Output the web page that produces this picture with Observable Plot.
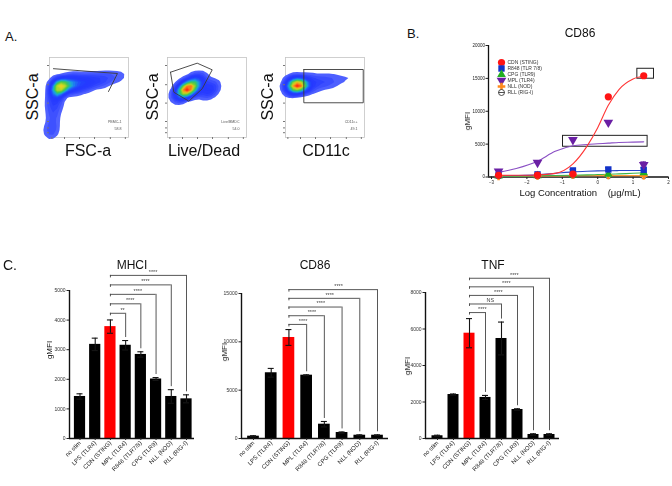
<!DOCTYPE html>
<html>
<head>
<meta charset="utf-8">
<script src="https://cdn.jsdelivr.net/npm/d3@7"></script>
<script src="https://cdn.jsdelivr.net/npm/@observablehq/plot@0.6"></script>
<style>
  html, body { margin: 0; padding: 0; background: #fff; }
  #fig { position: relative; width: 672px; height: 486px; overflow: hidden;
         font-family: "Liberation Sans", Arial, Helvetica, sans-serif; color: #111; }
  #fig svg { position: absolute; overflow: visible; will-change: transform; }
  .t { position: absolute; white-space: pre; line-height: 1; }
</style>
</head>
<body>
<div id="fig"></div>
<script>
// ---------- Panel A: gating, events summarised as weighted centres [x, y, weight] in channel units (0–100)
const fscSscEvents = [
  [3, 8, 1.2], [4, 16, 1.2], [4.5, 24, 1.5], [5, 32, 2], [5.5, 40, 2.5], [6.5, 48, 3.5], [8, 55, 5], [10, 61, 7], [12, 64, 8],
  [15, 66, 8], [20, 66.5, 7], [28, 67, 6.5], [36, 67.5, 6], [44, 68.5, 4.5], [52, 70, 3.5], [60, 71.5, 2.8],
  [68, 73, 2.2], [76, 74.5, 1.7], [84, 76, 1.2], [92, 77.5, 0.8], [98, 79, 0.4],
  [20, 58, 0.8], [32, 60, 0.7], [46, 62, 0.5], [14, 50, 0.6], [30, 75, 0.6], [55, 78, 0.5], [1, 8, 1.2], [1, 4, 0.8]
];
const fscSscGate = [[74.7, 57.5], [86, 80], [5, 86]];
const liveDeadEvents = [
  [10, 50, 1.5], [14, 53, 3], [18, 56, 5.5], [22, 59, 8], [26, 61, 10], [30, 64, 8], [34, 67, 5.5], [38, 70, 3.5], [42, 72, 2], [46, 75, 1],
  [46, 55, 1.6], [50, 58, 2.4], [54, 61, 2.4], [58, 64, 1.6], [62, 67, 0.8],
  [20, 66, 0.8], [32, 58, 0.8], [3, 3, 0.4]
];
const liveDeadGate = [[3.8, 81.6], [37.6, 92.9], [56.6, 84.6], [43.9, 60.9], [27, 45.4], [8, 56.6], [3.8, 81.6]];
const cd11cEvents = [
  [3, 62, 3], [7, 64, 8], [11, 65, 14], [15, 65, 16], [19, 66, 12], [24, 66.5, 8], [30, 67, 5], [36, 68, 3.5],
  [43, 69, 3], [50, 70, 2.5], [58, 71, 2], [66, 72, 1.6], [74, 73, 1.3], [82, 74, 1], [90, 75, 0.7], [96, 76, 0.4],
  [10, 55, 1.5], [10, 75, 1.5], [30, 60, 1], [30, 75, 1], [55, 64, 0.6], [55, 77, 0.6]
];
const cd11cGate = [[23.2, 85], [98.4, 85], [98.4, 43.4], [23.2, 43.4], [23.2, 85]];
const flowYTicks = [6, 12, 20, 43, 66, 90];
const flowXTicks = [3, 19, 38, 57, 77, 96];

// ---------- Panel B: CD86 dose response
const doseLog = [-2.8, -1.7, -0.7, 0.3, 1.3];
const cdnDose = [250, 280, 450, 12200, 15400];
const r848Dose = [300, 400, 1000, 1150, 1100];
const cpgDose = [150, 200, 300, 400, 650];
const mplDose = [850, 2200, 5650, 8300, 1850];
const nllDose = [100, 150, 300, 250, 200];
const rllDose = [150, 150, 250, 200, 200];
const mplDoseErr = [250, 200, 0, 0, 450];
const r848DoseErr = [80, 80, 150, 250, 300];
// fitted curves, sampled
const fitLog = [-2.8, -2.3, -1.7, -1.2, -0.7, -0.3, 0, 0.3, 0.6, 1.0, 1.3];
const cdnFit = [250, 260, 300, 550, 2000, 4700, 7500, 10900, 13300, 14900, 15350];
const mplFit = [700, 1300, 2400, 3900, 4750, 4950, 5050, 5150, 5250, 5300, 5350];
const r848Fit = [200, 230, 330, 550, 780, 880, 930, 960, 980, 1000, 1000];
const cpgFit = [120, 140, 180, 220, 270, 320, 370, 420, 480, 560, 620];
const nllFit = [120, 130, 150, 170, 190, 200, 205, 210, 210, 210, 210];
const rllFit = [150, 150, 155, 160, 170, 175, 180, 185, 190, 190, 190];
const bHighlight = [
  {x1: 1.12, x2: 1.59, y1: 14950, y2: 16460},
  {x1: -0.98, x2: 1.41, y1: 4600, y2: 6260}
];

// ---------- Panel C: single-agonist stimulation
const stimuli = ["no stim", "LPS (TLR4)", "CDN (STING)", "MPL (TLR4)", "R848 (TLR7/8)", "CPG (TLR9)", "NLL (NOD)", "RLL (RIG-I)"];
const mhciMean = [1420, 3180, 3780, 3150, 2840, 2010, 1420, 1340];
const mhciSem = [90, 210, 225, 160, 90, 50, 230, 135];
const cd86Mean = [240, 6800, 10450, 6550, 1480, 620, 340, 340];
const cd86Sem = [50, 450, 820, 40, 280, 60, 40, 40];
const tnfMean = [150, 2410, 5770, 2250, 5480, 1590, 220, 220];
const tnfSem = [30, 30, 800, 110, 900, 40, 40, 40];
// CDN vs MPL, R848, CPG, NLL, RLL
const mhciSig = ["**", "****", "****", "****", "****"];
const cd86Sig = ["****", "****", "****", "****", "****"];
const tnfSig = ["****", "NS", "****", "****", "****"];

// ---------- helpers
const fig = document.getElementById("fig");
const FONT = '"Liberation Sans", Arial, Helvetica, sans-serif';
const plain = d3.format("d");

function place(node, left, top) {
  node.style.left = left + "px";
  node.style.top = top + "px";
  fig.appendChild(node);
}
function txt(s, x, y, size, opt = {}) {
  const d = document.createElement("div");
  d.className = "t";
  d.textContent = s;
  const ax = opt.anchor === "start" ? 0 : opt.anchor === "end" ? -100 : -50;
  d.style.left = x + "px";
  d.style.top = y + "px";
  d.style.fontSize = size + "px";
  d.style.transform = `translate(${ax}%, -50%)` + (opt.rotate ? ` rotate(${opt.rotate}deg)` : "");
  if (opt.color) d.style.color = opt.color;
  fig.appendChild(d);
}
function linearFit(pa, va, pb, vb) {
  const k = (pb - pa) / (vb - va);
  return {k, px: v => pa + (v - va) * k, val: p => va + (p - pa) / k};
}
const baseStyle = {background: "transparent", overflow: "visible", fontFamily: FONT, color: "#222"};

// ---------- Panel A drawing: pseudocolour density (blue → cyan → green → yellow → red)
const pseudoBase = ["#6676ff", "#3347ff", "#2438ff", "#2438ff", "#1f68f6", "#19b4e0", "#2fc25c", "#78d032"];
const pseudoWarm = d3.interpolateRgbBasis([...pseudoBase, "#e2d820", "#ff7818", "#ff2a10"]);
const pseudoMild = d3.interpolateRgbBasis([...pseudoBase, "#c8da28", "#ecd020"]);

function flowPanel(events, gate, tag, pct, x0, interp) {
  const fr = {x0, x1: x0 + 79, y0: 57, y1: 137};
  const left = x0 - 8, top = 50, w = 79 + 14, h = 80 + 16;
  const pts = events.map(([x, y, wt]) => ({x, y, wt}));
  const g = gate.map(([x, y]) => ({x, y}));
  const svg = Plot.plot({
    width: w, height: h,
    marginLeft: fr.x0 - left, marginRight: left + w - fr.x1,
    marginTop: fr.y0 - top, marginBottom: top + h - fr.y1,
    x: {domain: [0, 100], axis: null},
    y: {domain: [0, 100], axis: null},
    color: {type: "linear", interpolate: interp},
    style: baseStyle,
    marks: [
      Plot.frame({stroke: "#c4c4c4", strokeWidth: 0.8}),
      Plot.density(pts, {x: "x", y: "y", weight: "wt", bandwidth: 5, thresholds: 2, fill: "#8a98ff", fillOpacity: 0.28, stroke: null}),
      Plot.density(pts, {x: "x", y: "y", weight: "wt", bandwidth: 2.6, thresholds: 22, fill: "density", stroke: null}),
      Plot.line(g, {x: "x", y: "y", stroke: "#3a3a3a", strokeWidth: 0.9}),
      Plot.text([`${tag}\n${pct}`], {frameAnchor: "bottom-right", dx: -7, dy: -8, fontSize: 3.6, lineHeight: 1.7, fill: "#555"}),
      Plot.axisY({ticks: flowYTicks, tickSize: 2, tickFormat: () => "", stroke: "#777", label: null}),
      Plot.axisX({ticks: flowXTicks, tickSize: 2, tickFormat: () => "", stroke: "#777", label: null})
    ]
  });
  place(svg, left, top);
}
flowPanel(fscSscEvents, fscSscGate, "PBMC-1", "58.8", 49, pseudoMild);
flowPanel(liveDeadEvents, liveDeadGate, "Live/BMDC", "54.0", 167, pseudoWarm);
flowPanel(cd11cEvents, cd11cGate, "CD11c+", "49.1", 285, pseudoWarm);

txt("A.", 5, 36, 13, {anchor: "start"});
txt("SSC-a", 33, 97, 16, {rotate: -90});
txt("SSC-a", 153, 97, 16, {rotate: -90});
txt("SSC-a", 268, 97, 16, {rotate: -90});
txt("FSC-a", 88, 151, 16);
txt("Live/Dead", 204, 151, 16);
txt("CD11c", 326, 151, 16);

// ---------- Panel B drawing
(function () {
  const left = 440, top = 20, w = 232, h = 200;
  const fx = linearFit(491, -3, 668, 2);
  const x0 = fx.val(488);
  const series = [
    {name: "RLL (RIG-I)", dose: rllDose, fit: rllFit, line: "#555555"},
    {name: "NLL (NOD)", dose: nllDose, fit: nllFit, line: "#ff9a33"},
    {name: "CPG (TLR9)", dose: cpgDose, fit: cpgFit, line: "#3ab54a"},
    {name: "R848 (TLR 7/8)", dose: r848Dose, fit: r848Fit, err: r848DoseErr, line: "#2846c8"},
    {name: "MPL (TLR4)", dose: mplDose, fit: mplFit, err: mplDoseErr, line: "#8a4fc4"},
    {name: "CDN (STING)", dose: cdnDose, fit: cdnFit, line: "#ff3535"}
  ];
  const circleMinus = {
    draw(ctx, size) {
      const r = Math.sqrt(size / Math.PI);
      ctx.moveTo(r, 0); ctx.arc(0, 0, r, 0, 2 * Math.PI);
      ctx.moveTo(-r, 0); ctx.lineTo(r, 0);
    }
  };
  const markerOf = {
    "CDN (STING)": {symbol: "circle", fill: "#ff1414", r: 3.6},
    "R848 (TLR 7/8)": {symbol: "square", fill: "#1232c8", r: 3.6},
    "CPG (TLR9)": {symbol: "triangle", fill: "#22b022", r: 3.2},
    "MPL (TLR4)": {symbol: "triangle", fill: "#6a1fa4", r: 3.6, rotate: 180},
    "NLL (NOD)": {symbol: "cross", fill: "#ff8a1c", r: 3.2},
    "RLL (RIG-I)": {symbol: circleMinus, fill: "white", stroke: "#222", strokeWidth: 0.8, r: 3}
  };
  const marks = [
    Plot.ruleY([0], {x1: x0, x2: 2, stroke: "#111", strokeWidth: 1.3}),
    Plot.ruleX([x0], {y1: 0, y2: 20000, stroke: "#111", strokeWidth: 1.3}),
    Plot.axisY({ticks: [0, 5000, 10000, 15000, 20000], tickFormat: plain, tickSize: 2.5, tickPadding: 1, fontSize: 4.5, label: null}),
    Plot.axisX({ticks: [-3, -2, -1, 0, 1, 2], tickFormat: plain, tickSize: 2.5, tickPadding: 1, fontSize: 4.5, label: null}),
    Plot.rect(bHighlight, {x1: "x1", x2: "x2", y1: "y1", y2: "y2", fill: "none", stroke: "#222", strokeWidth: 1})
  ];
  for (const s of series) {
    const fit = fitLog.map((x, i) => ({x, y: s.fit[i]}));
    marks.push(Plot.line(fit, {x: "x", y: "y", stroke: s.line, strokeWidth: 1.1, curve: "monotone-x"}));
  }
  for (const s of series) {
    const pts = doseLog.map((x, i) => ({x, y: s.dose[i], e: s.err ? s.err[i] : 0}));
    const eb = pts.filter(d => d.e > 0);
    const m = markerOf[s.name];
    marks.push(
      Plot.ruleX(eb, {x: "x", y1: d => d.y - d.e, y2: d => d.y + d.e, stroke: m.fill, strokeWidth: 1}),
      Plot.ruleY(eb, {y: d => d.y + d.e, x1: d => d.x - 0.08, x2: d => d.x + 0.08, stroke: m.fill, strokeWidth: 1}),
      Plot.dot(pts, {x: "x", y: "y", ...m, stroke: m.stroke ?? "none"})
    );
  }
  const svg = Plot.plot({
    width: w, height: h,
    marginLeft: 488 - left, marginRight: left + w - 668,
    marginTop: 45 - top, marginBottom: top + h - 176.5,
    x: {domain: [x0, 2], axis: null},
    y: {domain: [0, 20000], axis: null},
    style: baseStyle,
    marks
  });
  place(svg, left, top);

  // legend
  const order = ["CDN (STING)", "R848 (TLR 7/8)", "CPG (TLR9)", "MPL (TLR4)", "NLL (NOD)", "RLL (RIG-I)"];
  const legend = Plot.plot({
    width: 80, height: 52, marginTop: 6, marginBottom: 5, marginLeft: 5, marginRight: 0,
    y: {type: "point", domain: order, axis: null},
    style: baseStyle,
    marks: [
      ...order.map(n => Plot.dot([n], {y: d => d, frameAnchor: "left", ...markerOf[n], stroke: markerOf[n].stroke ?? "none"})),
      Plot.text(order, {y: d => d, text: d => d, frameAnchor: "left", dx: 6, textAnchor: "start", fontSize: 5, fill: "#333"})
    ]
  });
  place(legend, 496, 50);

  txt("B.", 407, 33, 13, {anchor: "start"});
  txt("CD86", 580, 33, 12);
  txt("gMFI", 468, 121, 8, {rotate: -90});
  txt("Log Concentration    (\u03bcg/mL)", 580, 193, 9.5);
})();

// ---------- Panel C drawing
function barPanel(c) {
  const top = 250, height = 236;
  const fx = linearFit(c.i0, 0, c.i7, stimuli.length - 1);
  const fy = linearFit(c.base, 0, c.tickPx, c.tickVal);
  const xDom = [fx.val(c.axisL), fx.val(c.axisR)];
  const perX = fx.k, perY = -fy.k;
  const ref = stimuli.indexOf("CDN (STING)");
  const rows = stimuli.map((name, i) => ({i, name, v: c.mean[i], e: c.sem[i]}));
  const brackets = c.sig.map((s, k) => {
    const t = ref + 1 + k;
    return {t, s, lvl: c.level0 + k * c.levelStep, end: c.mean[t] + c.sem[t] + 3 / perY};
  });
  const cap = 3 / perX, half = c.barWidth / 2 / perX;
  const svg = Plot.plot({
    width: c.svgW, height,
    marginLeft: c.axisL - c.svgL, marginRight: c.svgL + c.svgW - c.axisR,
    marginTop: fy.px(c.yTop) - top, marginBottom: top + height - c.base,
    x: {type: "linear", domain: xDom, axis: null},
    y: {domain: [0, c.yTop], axis: null},
    style: baseStyle,
    marks: [
      Plot.rect(rows.filter(d => d.i !== ref), {x1: d => d.i - half, x2: d => d.i + half, y1: 0, y2: "v", fill: "#000"}),
      Plot.rect(rows.filter(d => d.i === ref), {x1: d => d.i - half, x2: d => d.i + half, y1: 0, y2: "v", fill: "#ff0000"}),
      Plot.ruleX(rows, {x: "i", y1: d => d.v - d.e, y2: d => d.v + d.e, stroke: "#151515", strokeWidth: 1.1}),
      Plot.ruleY(rows, {y: d => d.v + d.e, x1: d => d.i - cap, x2: d => d.i + cap, stroke: "#151515", strokeWidth: 1.1}),
      Plot.ruleY(rows, {y: d => d.v - d.e, x1: d => d.i - cap, x2: d => d.i + cap, stroke: "#151515", strokeWidth: 1.1}),
      Plot.ruleY(brackets, {y: "lvl", x1: ref, x2: "t", stroke: "#444", strokeWidth: 0.9}),
      Plot.ruleX(brackets, {x: "t", y1: "lvl", y2: "end", stroke: "#444", strokeWidth: 0.9}),
      Plot.ruleX(brackets, {x: ref, y1: "lvl", y2: d => d.lvl - 2.5 / perY, stroke: "#444", strokeWidth: 0.9}),
      Plot.text(brackets, {x: d => (ref + d.t) / 2 + 0.3, y: "lvl", text: "s", dy: -3.5, fontSize: 5.5, fill: "#444"}),
      Plot.ruleX([xDom[0]], {y1: 0, y2: c.yTicks[c.yTicks.length - 1], stroke: "#111", strokeWidth: 1.4}),
      Plot.ruleY([0], {x1: xDom[0], x2: xDom[1], stroke: "#111", strokeWidth: 1.4}),
      Plot.axisY({ticks: c.yTicks, tickFormat: plain, tickSize: 2.5, tickPadding: 1.5, fontSize: 5, fill: "#333", label: null}),
      Plot.axisX({ticks: d3.range(stimuli.length), tickFormat: i => stimuli[i], tickRotate: -45, tickSize: 2, tickPadding: 1.5, fontSize: 6, fill: "#222", label: null})
    ]
  });
  place(svg, c.svgL, top);
  txt(c.title, c.titleX, 265, 12);
  txt("gMFI", c.gx, c.gy, 8, {rotate: -90});
}

barPanel({title: "MHCI", titleX: 132, gx: 50, gy: 350, mean: mhciMean, sem: mhciSem, sig: mhciSig,
  svgL: 0, svgW: 220, axisL: 69, axisR: 194, i0: 79.5, i7: 186, base: 438, tickVal: 5000, tickPx: 290,
  yTop: 6000, yTicks: [0, 1000, 2000, 3000, 4000, 5000], level0: 4230, levelStep: 320, barWidth: 11.2});
barPanel({title: "CD86", titleX: 315, gx: 225, gy: 352, mean: cd86Mean, sem: cd86Sem, sig: cd86Sig,
  svgL: 222, svgW: 178, axisL: 241, axisR: 388, i0: 253, i7: 377, base: 438, tickVal: 15000, tickPx: 293,
  yTop: 17000, yTicks: [0, 5000, 10000, 15000], level0: 11800, levelStep: 900, barWidth: 11.7});
barPanel({title: "TNF", titleX: 493, gx: 408, gy: 366, mean: tnfMean, sem: tnfSem, sig: tnfSig,
  svgL: 400, svgW: 172, axisL: 425, axisR: 559, i0: 437, i7: 549, base: 438, tickVal: 8000, tickPx: 292,
  yTop: 9500, yTicks: [0, 2000, 4000, 6000, 8000], level0: 6900, levelStep: 470, barWidth: 11});

txt("C.", 3, 265, 14, {anchor: "start"});
</script>
</body>
</html>
